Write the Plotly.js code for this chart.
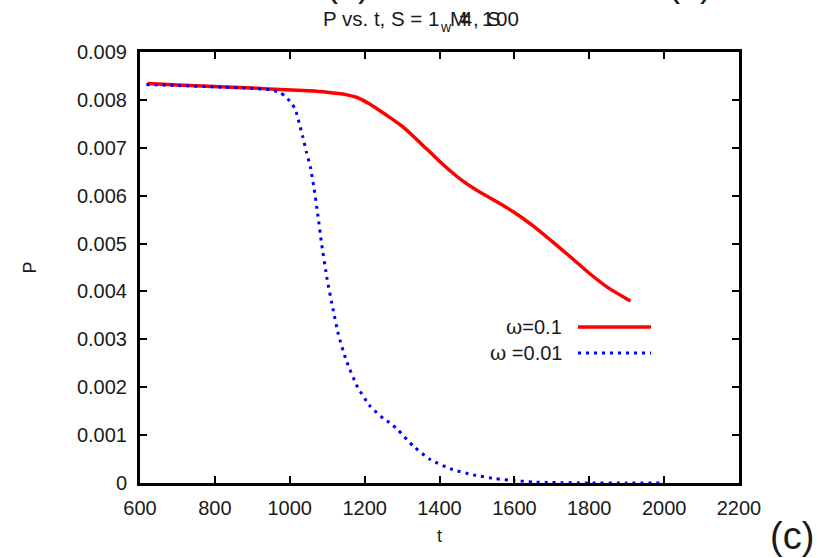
<!DOCTYPE html>
<html>
<head>
<meta charset="utf-8">
<script src="https://cdn.plot.ly/plotly-3.0.1.min.js"></script>
<style>html,body{margin:0;padding:0;background:#fff;}#chart{width:818px;height:558px;}</style>
</head>
<body>
<div id="chart"></div>
<script>
// ---- data ----
const tRed = [620, 700, 800, 900, 960, 1050, 1100, 1150, 1180, 1210, 1240, 1270, 1300, 1330, 1365, 1400, 1430, 1460, 1490, 1520, 1560, 1600, 1650, 1700, 1750, 1800, 1850, 1910];
const pRed = [0.00834, 0.00831, 0.00828, 0.00825, 0.00822, 0.00819, 0.00816, 0.00811, 0.00805, 0.00793, 0.00778, 0.00762, 0.00745, 0.00724, 0.00698, 0.00672, 0.00651, 0.00632, 0.00616, 0.00602, 0.00584, 0.00565, 0.00537, 0.00505, 0.00472, 0.00438, 0.00408, 0.00380];

const tBlue = [617, 700, 800, 900, 950, 975, 990, 1005, 1015, 1025, 1035, 1045, 1055, 1065, 1075, 1085, 1100, 1115, 1130, 1150, 1180, 1215, 1250, 1270, 1290, 1330, 1375, 1435, 1490, 1550, 1600, 1650, 1700, 1800, 1900, 2000];
const pBlue = [0.00832, 0.00830, 0.00827, 0.00824, 0.00821, 0.00815, 0.00806, 0.00793, 0.00780, 0.00752, 0.00722, 0.00690, 0.00660, 0.00615, 0.00560, 0.00500, 0.00425, 0.00365, 0.00310, 0.00258, 0.00202, 0.00160, 0.00135, 0.00124, 0.00110, 0.00077, 0.00049, 0.00028, 0.00017, 0.00009, 0.00005, 0.00002, 0.00001, 0, 0, 0];

const seriesNames = ["ω=0.1", "ω =0.01"];
const xTicks = [600, 800, 1000, 1200, 1400, 1600, 1800, 2000, 2200];
const yTicks = [0, 0.001, 0.002, 0.003, 0.004, 0.005, 0.006, 0.007, 0.008, 0.009];
const yTickText = ["0", "0.001", "0.002", "0.003", "0.004", "0.005", "0.006", "0.007", "0.008", "0.009"];

// ---- layout helpers ----
const W = 818, H = 558, L = 140, R = 79, T = 52, B = 75;
const PW = W - L - R, PH = H - T - B;
const px = x => (x - L) / PW;
const py = y => (H - B - y) / PH;
const FONT = "Liberation Sans, Arial, sans-serif";
const TXT = "#1a1a1a";
const DOTS = "3px,5px";
const legendLabel = s => s.replace("ω", '<span style="font-family:DejaVu Serif">ω</span>');

const traces = [
  {x: tRed, y: pRed, mode: "lines", name: seriesNames[0], line: {color: "#ff0000", width: 3.5, shape: "spline", smoothing: 0.6}},
  {x: tBlue, y: pBlue, mode: "lines", name: seriesNames[1], line: {color: "#0000ff", width: 3, dash: DOTS, shape: "spline", smoothing: 0.5}}
];

const axisCommon = {
  showgrid: false, zeroline: false, showline: true, linecolor: "#000", linewidth: 3,
  mirror: "ticks", ticks: "inside", ticklen: 7, tickwidth: 2, tickcolor: "#000",
  tickfont: {family: FONT, size: 20, color: TXT}, automargin: false
};

const titleParts = [
  {text: "P vs. t, S = 1", x: 321},
  {text: "M", x: 448},
  {text: "=", x: 457},
  {text: "4", x: 459},
  {text: ",", x: 471},
  {text: "1", x: 480},
  {text: "S", x: 485},
  {text: "00", x: 494}
];

const annotations = titleParts.map(p => ({
  xref: "paper", yref: "paper", x: px(p.x), y: py(18), xanchor: "left", yanchor: "middle",
  text: p.text, showarrow: false, font: {family: FONT, size: 20.5, color: TXT}
}));
annotations.push({xref: "paper", yref: "paper", x: px(446), y: py(27), xanchor: "center", yanchor: "middle",
  text: "w", showarrow: false, font: {family: FONT, size: 14, color: TXT}});
// clipped panel labels at the very top
annotations.push({xref: "paper", yref: "paper", x: px(324), y: py(-16), xanchor: "left", yanchor: "middle",
  text: "(a)", showarrow: false, font: {family: FONT, size: 36, color: TXT}});
annotations.push({xref: "paper", yref: "paper", x: px(666), y: py(-16), xanchor: "left", yanchor: "middle",
  text: "(b)", showarrow: false, font: {family: FONT, size: 36, color: TXT}});
// panel label
annotations.push({xref: "paper", yref: "paper", x: px(768), y: py(536), xanchor: "left", yanchor: "middle",
  text: "(c)", showarrow: false, font: {family: FONT, size: 38, color: TXT}});
// legend texts
annotations.push({xref: "paper", yref: "paper", x: px(564), y: py(327), xanchor: "right", yanchor: "middle",
  text: legendLabel(seriesNames[0]), showarrow: false, font: {family: FONT, size: 20, color: TXT}});
annotations.push({xref: "paper", yref: "paper", x: px(564), y: py(353), xanchor: "right", yanchor: "middle",
  text: legendLabel(seriesNames[1]), showarrow: false, font: {family: FONT, size: 20, color: TXT}});

const shapes = [
  {type: "line", xref: "paper", yref: "paper", x0: px(578), x1: px(651), y0: py(327), y1: py(327),
   line: {color: "#ff0000", width: 3.5}},
  {type: "line", xref: "paper", yref: "paper", x0: px(578), x1: px(651), y0: py(353), y1: py(353),
   line: {color: "#0000ff", width: 3, dash: DOTS}}
];

const layout = {
  width: W, height: H,
  margin: {l: L, r: R, t: T, b: B, pad: 0},
  paper_bgcolor: "#fff", plot_bgcolor: "#fff",
  showlegend: false,
  xaxis: Object.assign({}, axisCommon, {
    range: [600, 2200], tickvals: xTicks, ticktext: xTicks.map(String), ticklabelstandoff: 5,
    title: {text: "t", font: {family: FONT, size: 18, color: TXT}, standoff: 12}
  }),
  yaxis: Object.assign({}, axisCommon, {
    range: [0, 0.009], tickvals: yTicks, ticktext: yTickText, ticklabelstandoff: 6,
    title: {text: "P", font: {family: FONT, size: 18, color: TXT}, standoff: 36}
  }),
  annotations: annotations,
  shapes: shapes
};

Plotly.newPlot("chart", traces, layout, {staticPlot: true, displayModeBar: false});
</script>
</body>
</html>
